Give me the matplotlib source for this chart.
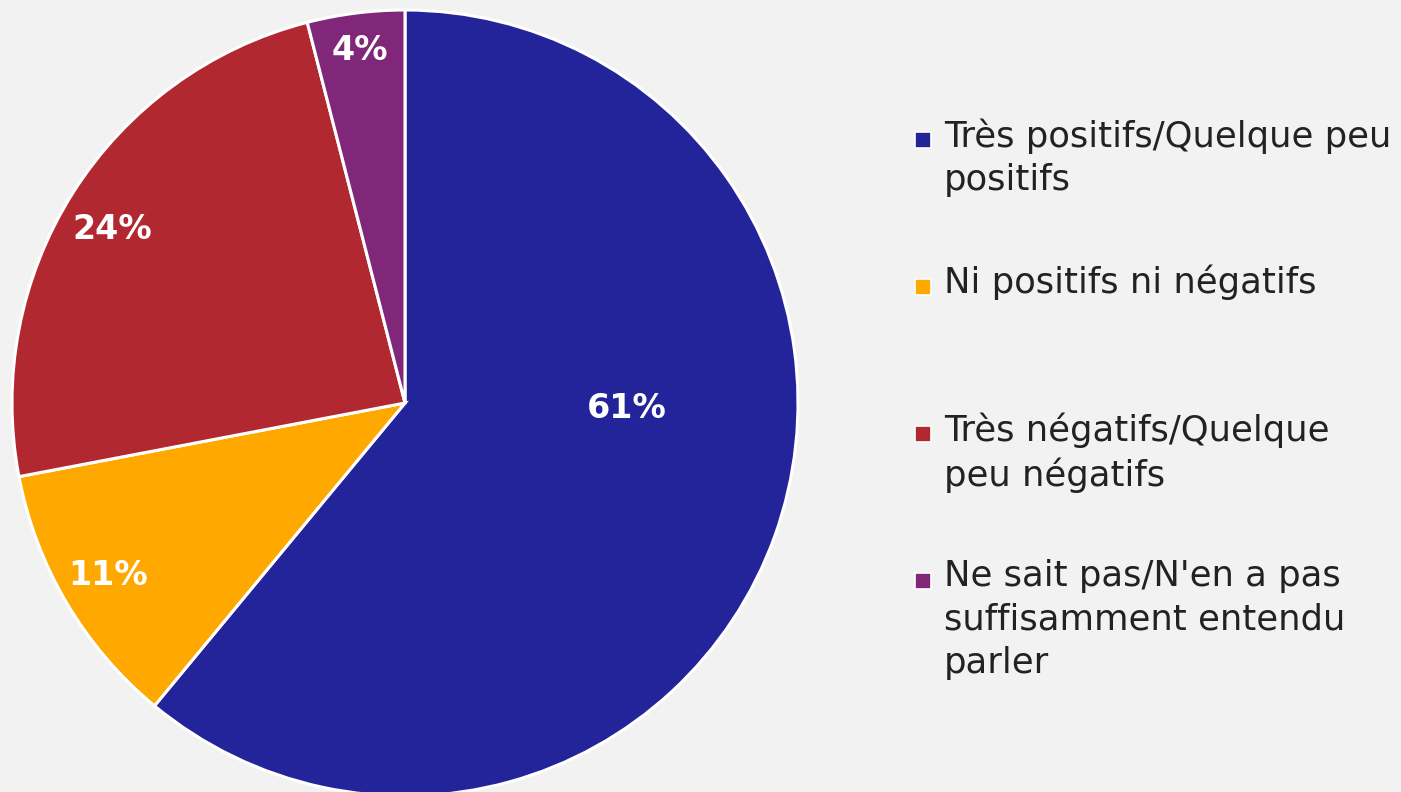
import numpy as np
import matplotlib
matplotlib.use('Agg')
from matplotlib import pyplot as plt

# data
categories = ['Très positifs/Quelque peu\npositifs',
              'Ni positifs ni négatifs',
              'Très négatifs/Quelque\npeu négatifs',
              "Ne sait pas/N'en a pas\nsuffisamment entendu\nparler"]
values = [61, 11, 24, 4]
colors = ['#24249a', '#ffa800', '#b22830', '#80277a']

# label placement (angle in degrees, fraction of radius) - best fit look
label_angle = [-1.3, 210.2, 149.4, 97.3]
label_frac = [0.565, 0.875, 0.866, 0.905]

W, H = 1401, 792
fig = plt.figure(figsize=(W / 100, H / 100), dpi=100)
fig.patch.set_facecolor('#f2f2f2')
ax = fig.add_axes([0, 0, 1, 1])
ax.set_aspect('equal')

cx, cy, r = 405, H - 403, 393
wedges, _ = ax.pie(values, colors=colors, startangle=90, counterclock=False,
                   center=(cx, cy), radius=r, frame=True,
                   wedgeprops=dict(edgecolor='white', linewidth=2.2))
ax.set_xlim(0, W)
ax.set_ylim(0, H)
ax.axis('off')

for v, a, f in zip(values, label_angle, label_frac):
    x = cx + f * r * np.cos(np.radians(a))
    y = cy + f * r * np.sin(np.radians(a))
    ax.text(x, y, '%d%%' % v, color='white', fontsize=24, fontweight='bold',
            family='DejaVu Sans', ha='center', va='center')

# legend drawn by hand
leg_top = H - 140
step = 147
for i, (lab, c) in enumerate(zip(categories, colors)):
    y = leg_top - i * step
    ax.add_patch(plt.Rectangle((915, y - 8), 16, 16, facecolor=c,
                               edgecolor='white', linewidth=1.2))
    ax.text(944, y + 22, lab, fontsize=25.5, color='#222222', family='DejaVu Sans',
            ha='left', va='top', linespacing=1.35)

plt.savefig('out.png', dpi=100, facecolor=fig.get_facecolor())
